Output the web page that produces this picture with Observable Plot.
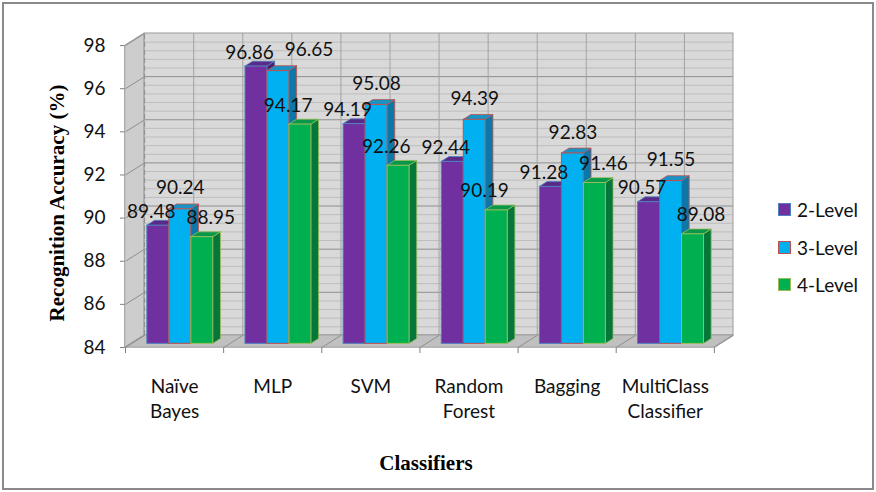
<!DOCTYPE html>
<html>
<head>
<meta charset="utf-8">
<script src="https://cdn.jsdelivr.net/npm/d3@7"></script>
<script src="https://cdn.jsdelivr.net/npm/@observablehq/plot@0.6"></script>
<style>
  html, body { margin: 0; padding: 0; background: #fff; }
  #wrap { position: relative; width: 876px; height: 492px; overflow: hidden; font-family: Lato, "Open Sans", sans-serif; }
  #chart svg { display: block; }
  #border { position: absolute; left: 2px; top: 2px; width: 872px; height: 488px; box-sizing: border-box; border: 2px solid #8a8a8a; pointer-events: none; }
  .ytitle { position: absolute; left: 57px; top: 203px; transform: translate(-50%, -50%) rotate(-90deg); white-space: nowrap;
            font: bold 21px "Liberation Serif", "Times New Roman", serif; color: #000; }
  .xtitle { position: absolute; left: 426px; top: 463px; transform: translate(-50%, -50%); white-space: nowrap;
            font: bold 21px "Liberation Serif", "Times New Roman", serif; color: #000; }
  #legend { position: absolute; left: 778px; top: 191px; }
  #legend .item { display: flex; align-items: center; height: 37.5px; font: 19px Lato, sans-serif; color: #111; }
  #legend .sw { width: 11px; height: 11px; border: 1.5px solid; margin-right: 6px; }
  svg [aria-label="y-axis tick"], svg [aria-label="x-axis tick"] { stroke: #7f7f7f; }
</style>
</head>
<body>
<div id="wrap">
  <div id="chart"></div>
  <div id="border"></div>
  <div class="ytitle">Recognition Accuracy (%)</div>
  <div class="xtitle">Classifiers</div>
  <div id="legend"></div>
</div>
<script>
// ---- data ----
const categories = ["Naïve\nBayes", "MLP", "SVM", "Random\nForest", "Bagging", "MultiClass\nClassifier"];
const series = ["2-Level", "3-Level", "4-Level"];
const level2 = [89.48, 96.86, 94.19, 92.44, 91.28, 90.57];
const level3 = [90.24, 96.65, 95.08, 94.39, 92.83, 91.55];
const level4 = [88.95, 94.17, 92.26, 90.19, 91.46, 89.08];
const yTicks = [84, 86, 88, 90, 92, 94, 96, 98];

// ---- styles ----
const frontColors = ["#7030A0", "#00B0F0", "#00B050"];
const topColors = ["#5a2a8a", "#1a92c4", "#07984a"];
const sideColors = ["#4b1f70", "#0d77a8", "#05773a"];
const strokeColors = ["#4F81BD", "#C0504D", "#9BBB59"];
const labelOffsets = [[-7, -14], [0, -21], [8, -19]]; // px, per series
const LABEL_W = 49, LABEL_H = 20, LABEL_GAP = 10;

// layout
const W = 876, H = 492, ML = 125, MR = 143, MT = 33, MB = 145;
// 3-D projection expressed in data units (depth vector of the box)
const DX = 0.195, DY = 0.56;
const BASE = yTicks[0], TOP = yTicks[yTicks.length - 1];
const N = categories.length;
const BAR_W = 0.224, GROUP_START = 0.164, D0 = 0.3, D1 = 0.7;
const pxPerX = (W - ML - MR) / (N + DX);
const pxPerY = (H - MT - MB) / (TOP + DY - BASE);

const values = [level2, level3, level4];
const rows = [];
series.forEach((s, si) => categories.forEach((c, ci) => {
  const v = values[si][ci];
  const x1 = ci + GROUP_START + si * BAR_W + D0 * DX;
  rows.push({id: `${si}-${ci}`, si, ci, v, x1, x2: x1 + BAR_W, yb: BASE + D0 * DY, yt: v + D0 * DY});
}));
const sideData = rows.flatMap(r => [
  {id: r.id, si: r.si, x: r.x2, y1: r.yb, y2: r.yt},
  {id: r.id, si: r.si, x: r.x2 + (D1 - D0) * DX, y1: r.yb + (D1 - D0) * DY, y2: r.yt + (D1 - D0) * DY}
]);
const topData = rows.flatMap(r => [
  {id: r.id, si: r.si, y: r.yt, x1: r.x1, x2: r.x2},
  {id: r.id, si: r.si, y: r.yt + (D1 - D0) * DY, x1: r.x1 + (D1 - D0) * DX, x2: r.x2 + (D1 - D0) * DX}
]);

// value-label placement (data units); a label that collides with an already placed one
// is slid sideways by the smallest amount that clears it
const labels = rows.map(r => ({
  ci: r.ci, si: r.si, text: r.v.toFixed(2),
  lx: (r.x1 + r.x2) / 2 + labelOffsets[r.si][0] / pxPerX,
  ly: r.yt - labelOffsets[r.si][1] / pxPerY
}));
const placed = [];
const STEP = (LABEL_W + LABEL_GAP + 0.5) / pxPerX;
const collides = (x, y) => placed.some(P => Math.abs(x - P.lx) * pxPerX < LABEL_W + LABEL_GAP && Math.abs(y - P.ly) * pxPerY < LABEL_H);
labels.forEach(L => {
  if (collides(L.lx, L.ly)) {
    const cands = placed.flatMap(P => [P.lx - STEP, P.lx + STEP]).filter(x => !collides(x, L.ly));
    if (cands.length) L.lx = d3.least(cands, x => Math.abs(x - L.lx));
  }
  placed.push(L);
});

const minorTicks = d3.range(BASE + 0.4, TOP - 0.01, 0.4).filter(t => Math.abs(t / 2 - Math.round(t / 2)) > 0.01);
const majorInner = yTicks.slice(1, -1);
const catEdges = d3.range(0, N + 1);

const barMarks = series.flatMap((s, si) => {
  const R = rows.filter(r => r.si === si);
  return [
    Plot.areaY(sideData.filter(d => d.si === si), {x: "x", y1: "y1", y2: "y2", z: "id", fill: sideColors[si], stroke: strokeColors[si], strokeWidth: 0.8}),
    Plot.areaX(topData.filter(d => d.si === si), {y: "y", x1: "x1", x2: "x2", z: "id", fill: topColors[si], stroke: strokeColors[si], strokeWidth: 0.8}),
    Plot.rect(R, {x1: "x1", x2: "x2", y1: "yb", y2: "yt", fill: frontColors[si], stroke: strokeColors[si], strokeWidth: 1})
  ];
});

const chart = Plot.plot({
  width: W, height: H,
  marginLeft: ML, marginRight: MR, marginTop: MT, marginBottom: MB,
  style: {fontFamily: "Lato, 'Open Sans', sans-serif", fontSize: "19px", color: "#111", background: "transparent"},
  x: {domain: [0, N + DX], ticks: catEdges, tickFormat: () => "", tickSize: 6, label: null},
  y: {domain: [BASE, TOP + DY], ticks: yTicks, tickSize: 5, tickPadding: 15, label: null},
  marks: [
    // left side wall
    Plot.areaY([{x: 0, y1: BASE, y2: TOP}, {x: DX, y1: BASE + DY, y2: TOP + DY}], {x: "x", y1: "y1", y2: "y2", fill: "#cdcdcd", stroke: "#9a9a9a"}),
    Plot.link(yTicks, {x1: 0, y1: d => d, x2: DX, y2: d => d + DY, stroke: "#8e8e8e"}),
    // back wall
    Plot.rect([0], {x1: DX, x2: N + DX, y1: BASE + DY, y2: TOP + DY, fill: "#d9d9d9"}),
    Plot.ruleY(minorTicks, {y: d => d + DY, x1: DX, x2: N + DX, stroke: "#bdbdbd"}),
    Plot.ruleY(majorInner, {y: d => d + DY, x1: DX, x2: N + DX, stroke: "#8e8e8e"}),
    Plot.ruleX(d3.range(0.5, N, 0.5), {x: d => d + DX, y1: BASE + DY, y2: TOP + DY, stroke: "#a3a3a3"}),
    Plot.rect([0], {x1: DX, x2: N + DX, y1: BASE + DY, y2: TOP + DY, fill: "none", stroke: "#9a9a9a"}),
    Plot.ruleX([DX], {y1: BASE + DY, y2: TOP + DY, stroke: "#8e8e8e", strokeDasharray: "5,3"}),
    // floor
    Plot.areaX([{y: BASE, x1: 0, x2: N}, {y: BASE + DY, x1: DX, x2: N + DX}], {y: "y", x1: "x1", x2: "x2", fill: "#c0c0c0", stroke: "#9a9a9a"}),
    Plot.link(catEdges, {x1: d => d, y1: BASE, x2: d => d + DX, y2: BASE + DY, stroke: "#8e8e8e"}),
    // bars
    ...barMarks,
    // value labels
    Plot.text(labels, {x: "lx", y: "ly", text: "text", fill: "#111", fontSize: 19}),
    // category labels
    Plot.text(categories, {x: (d, i) => i + 0.5, y: BASE, text: d => d, lineAnchor: "top", dy: 28, lineHeight: 1.32, fill: "#111", fontSize: 19})
  ]
});
document.getElementById("chart").appendChild(chart);

// legend
const legend = document.getElementById("legend");
series.forEach((s, si) => {
  const item = document.createElement("div");
  item.className = "item";
  const sw = document.createElement("span");
  sw.className = "sw";
  sw.style.background = frontColors[si];
  sw.style.borderColor = strokeColors[si];
  const t = document.createElement("span");
  t.textContent = s;
  item.appendChild(sw); item.appendChild(t);
  legend.appendChild(item);
});
</script>
</body>
</html>
